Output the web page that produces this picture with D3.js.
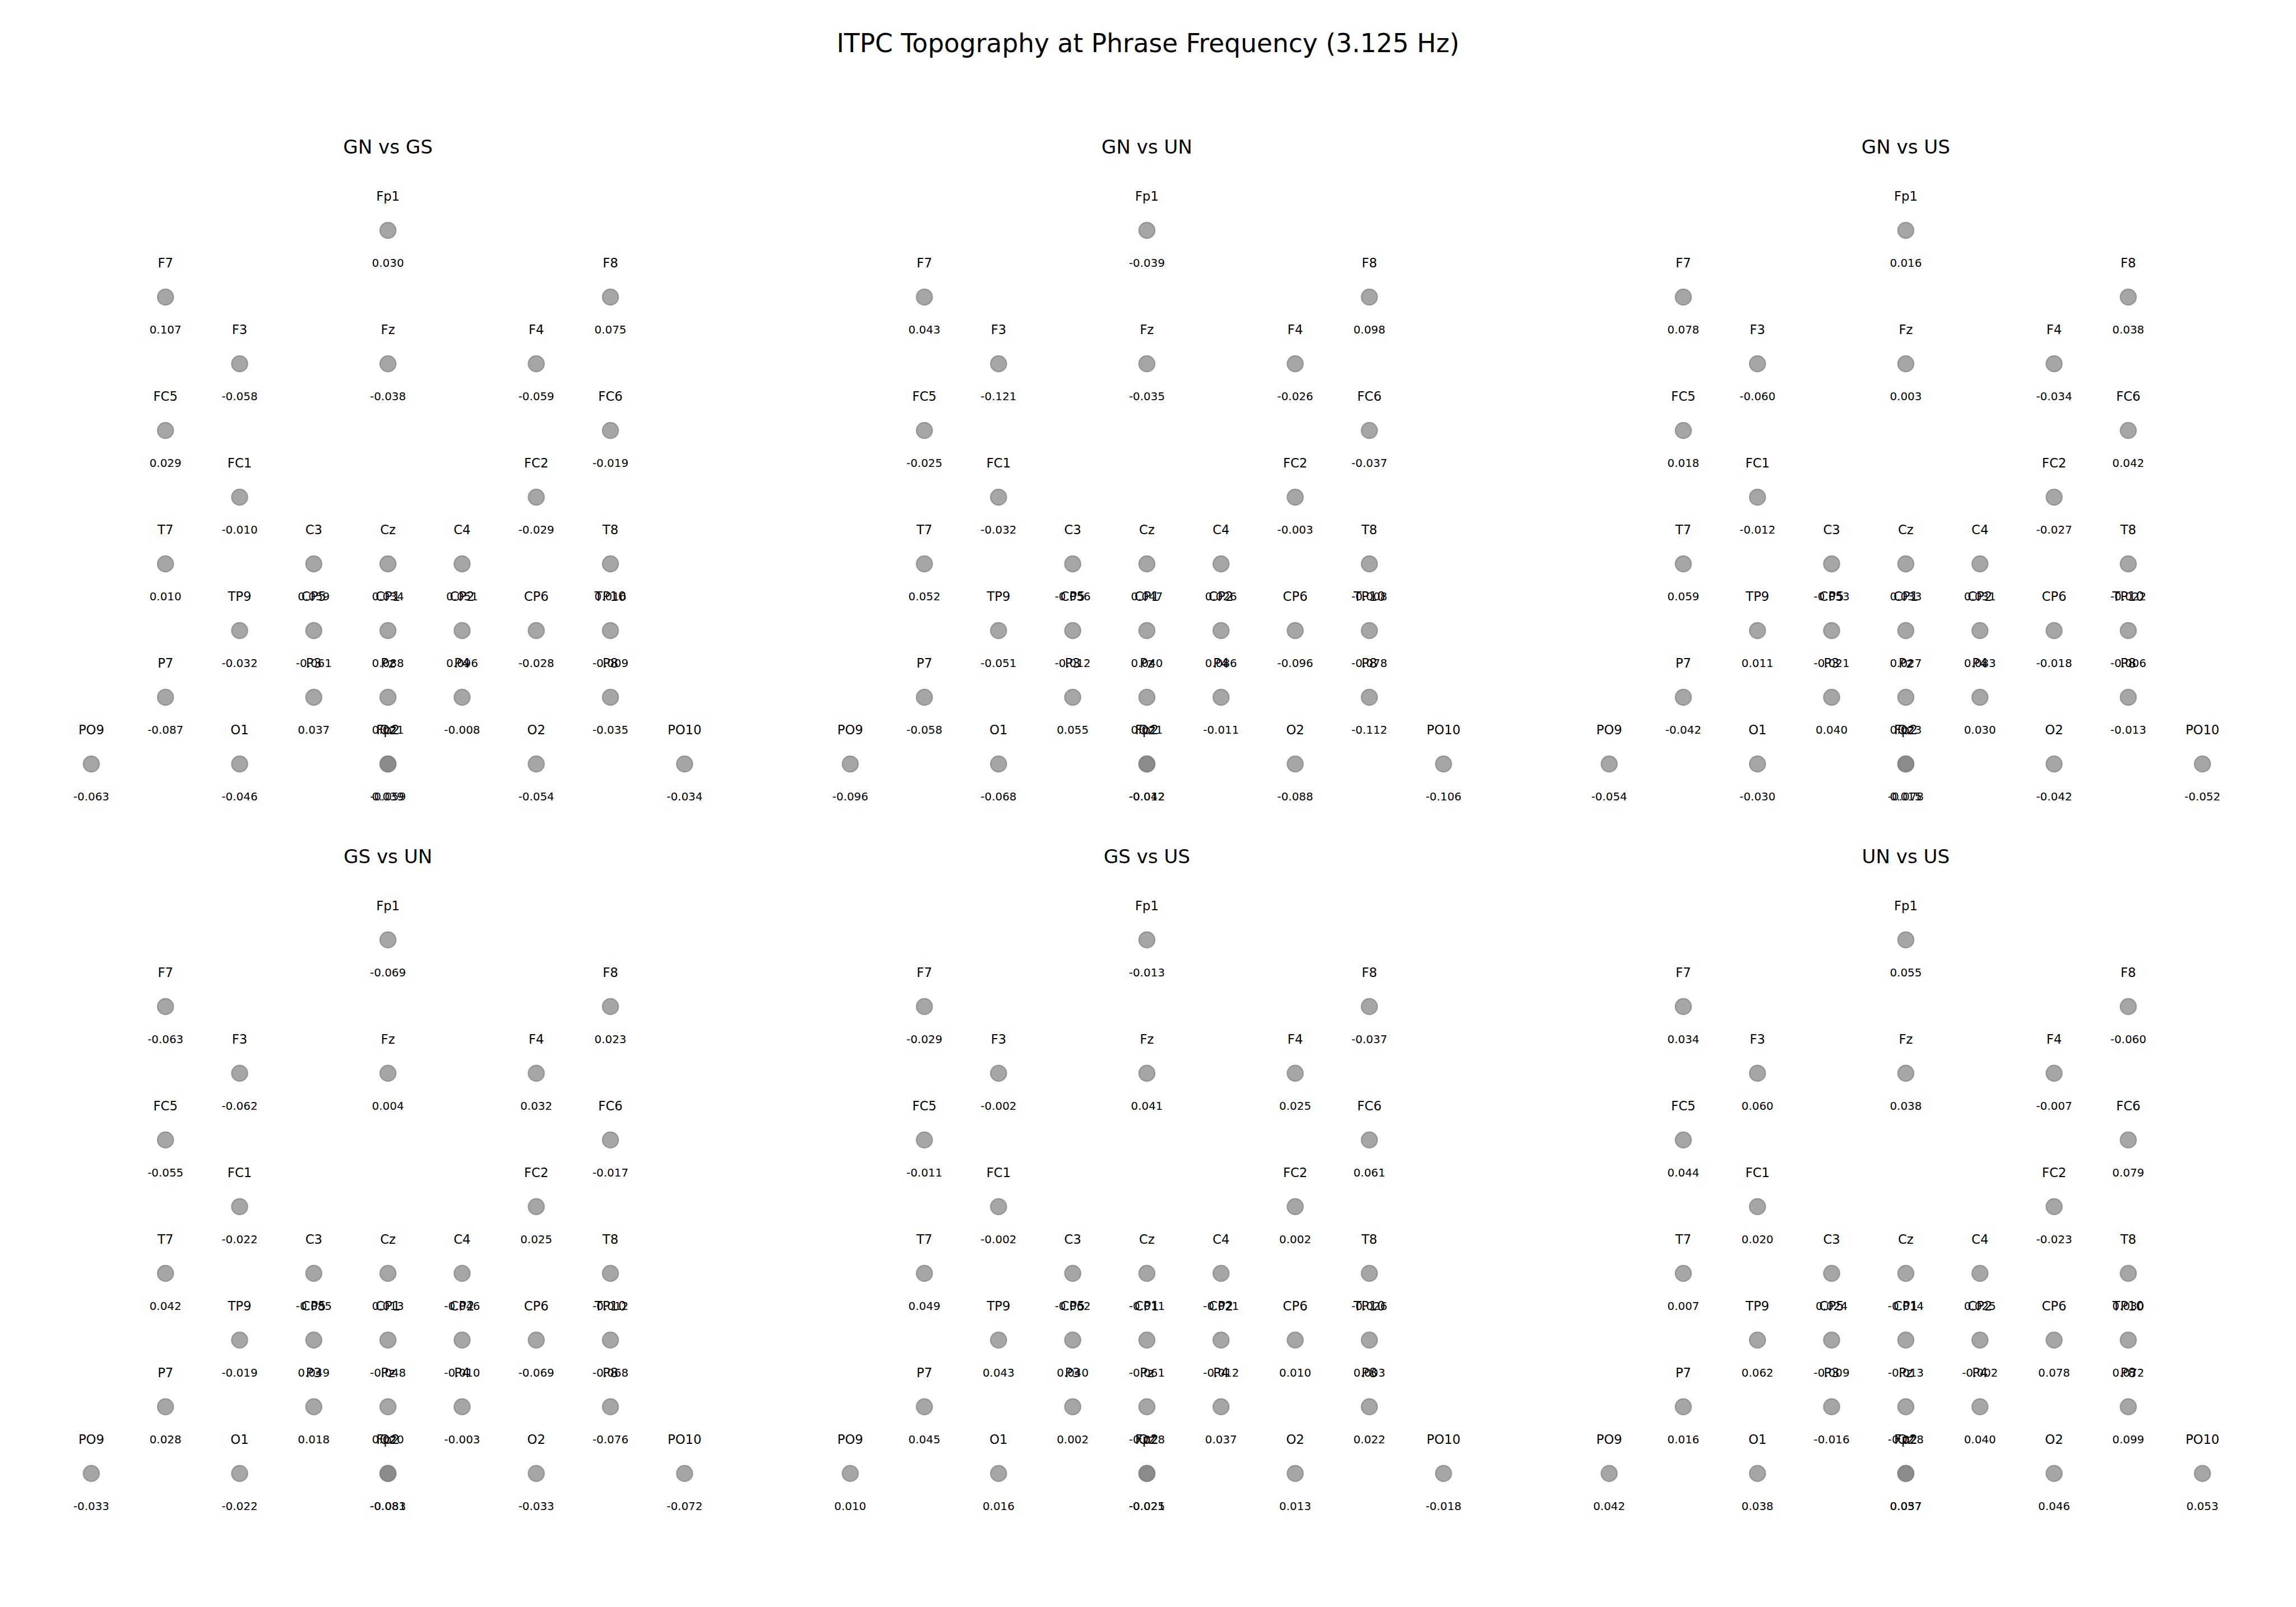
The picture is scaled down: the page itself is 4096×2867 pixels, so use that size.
<!DOCTYPE html>
<html>
<head>
<meta charset="utf-8">
<script src="https://cdn.jsdelivr.net/npm/d3@7"></script>
<style>
  html, body { margin: 0; padding: 0; background: #ffffff; }
  svg { display: block; }
  text { font-family: "DejaVu Sans", sans-serif; fill: #000; }
</style>
</head>
<body>
<script>
// ---------------- DATA ----------------
const chartTitle = "ITPC Topography at Phrase Frequency (3.125 Hz)";
const comparisons = ["GN vs GS", "GN vs UN", "GN vs US", "GS vs UN", "GS vs US", "UN vs US"];

const electrodes = ["Fp1","Fp2","F7","F3","Fz","F4","F8","FC5","FC1","FC2","FC6","T7","C3","Cz","C4","T8",
                    "TP9","CP5","CP1","CP2","CP6","TP10","P7","P3","Pz","P4","P8","PO9","O1","Oz","O2","PO10"];
// layout grid (column, row) of each electrode; Fp2 falls on the Oz spot in the reference
const electrodeCol = [0,0,-3,-2,0,2,3,-3,-2,2,3,-3,-1,0,1,3,-2,-1,0,1,2,3,-3,-1,0,1,3,-4,-2,0,2,4];
const electrodeRow = [0,8,1,2,2,2,1,3,4,4,3,5,5,5,5,5,6,6,6,6,6,6,7,7,7,7,7,8,8,8,8,8];

const valuesGNvsGS = [0.030,-0.059,0.107,-0.058,-0.038,-0.059,0.075,0.029,-0.010,-0.029,-0.019,0.010,0.059,0.034,0.051,0.016,
                      -0.032,-0.061,0.088,0.096,-0.028,-0.009,-0.087,0.037,0.021,-0.008,-0.035,-0.063,-0.046,0.039,-0.054,-0.034];
const valuesGNvsUN = [-0.039,-0.012,0.043,-0.121,-0.035,-0.026,0.098,-0.025,-0.032,-0.003,-0.037,0.052,-0.056,0.047,0.026,-0.008,
                      -0.051,-0.012,0.040,0.086,-0.096,-0.078,-0.058,0.055,0.021,-0.011,-0.112,-0.096,-0.068,-0.042,-0.088,-0.106];
const valuesGNvsUS = [0.016,0.015,0.078,-0.060,0.003,-0.034,0.038,0.018,-0.012,-0.027,0.042,0.059,-0.053,0.033,0.031,-0.022,
                      0.011,-0.021,0.027,0.083,-0.018,-0.006,-0.042,0.040,0.023,0.030,-0.013,-0.054,-0.030,-0.078,-0.042,-0.052];
const valuesGSvsUN = [-0.069,-0.081,-0.063,-0.062,0.004,0.032,0.023,-0.055,-0.022,0.025,-0.017,0.042,-0.085,0.013,-0.046,-0.012,
                      -0.019,0.049,-0.048,-0.010,-0.069,-0.068,0.028,0.018,0.020,-0.003,-0.076,-0.033,-0.022,-0.083,-0.033,-0.072];
const valuesGSvsUS = [-0.013,-0.021,-0.029,-0.002,0.041,0.025,-0.037,-0.011,-0.002,0.002,0.061,0.049,-0.062,-0.011,-0.021,-0.026,
                      0.043,0.040,-0.061,-0.012,0.010,0.003,0.045,0.002,-0.028,0.037,0.022,0.010,0.016,-0.025,0.013,-0.018];
const valuesUNvsUS = [0.055,0.037,0.034,0.060,0.038,-0.007,-0.060,0.044,0.020,-0.023,0.079,0.007,0.024,-0.014,0.025,0.030,
                      0.062,-0.009,-0.013,-0.002,0.078,0.072,0.016,-0.016,-0.028,0.040,0.099,0.042,0.038,0.057,0.046,0.053];
const panelValues = [valuesGNvsGS, valuesGNvsUN, valuesGNvsUS, valuesGSvsUN, valuesGSvsUS, valuesUNvsUS];

// ---------------- LAYOUT ----------------
const W = 4096, H = 2867;
const stepX = 132.3, stepY = 119.0;
const panelCX = [692.1, 2046.0, 3399.9];
const panelTop = [411.0, 1676.8];
const titleBase = [274.0, 1539.8];

const fmtLocale = d3.formatLocale({decimal: ".", thousands: ",", grouping: [3], currency: ["", ""], minus: "-"});
const fmt = fmtLocale.format(".3f");

const svg = d3.select("body").append("svg").attr("width", W).attr("height", H);
svg.append("rect").attr("width", W).attr("height", H).attr("fill", "#fff");

svg.append("text").attr("x", W / 2).attr("y", 92.8)
  .attr("text-anchor", "middle").attr("font-size", 45.5).text(chartTitle);

const rows = electrodes.map((name, i) => ({name, col: electrodeCol[i], row: electrodeRow[i], idx: i}));

comparisons.forEach((comp, p) => {
  const pc = p % 3, pr = Math.floor(p / 3);
  const x = d3.scaleLinear().domain([-4, 4]).range([panelCX[pc] - 4 * stepX, panelCX[pc] + 4 * stepX]);
  const y = d3.scaleLinear().domain([0, 8]).range([panelTop[pr], panelTop[pr] + 8 * stepY]);
  const g = svg.append("g");
  g.append("text").attr("x", panelCX[pc]).attr("y", titleBase[pr])
    .attr("text-anchor", "middle").attr("font-size", 34.1).text(comp);

  const data = rows.map(d => ({...d, v: panelValues[p][d.idx]}));

  g.selectAll("circle.el").data(data).join("circle")
    .attr("class", "el")
    .attr("cx", d => x(d.col)).attr("cy", d => y(d.row)).attr("r", 14.2)
    .attr("fill", "#808080").attr("fill-opacity", 0.7)
    .attr("stroke", "#808080").attr("stroke-opacity", 0.7).attr("stroke-width", 2.2);

  g.selectAll("text.lab").data(data).join("text")
    .attr("class", "lab")
    .attr("x", d => x(d.col)).attr("y", d => y(d.row - 0.5)).attr("dy", "0.28em")
    .attr("text-anchor", "middle").attr("font-size", 22.7).text(d => d.name);

  g.selectAll("text.val").data(data).join("text")
    .attr("class", "val")
    .attr("x", d => x(d.col)).attr("y", d => y(d.row + 0.5)).attr("dy", "0.27em")
    .attr("text-anchor", "middle").attr("font-size", 19.9).text(d => fmt(d.v));
});
</script>
</body>
</html>
